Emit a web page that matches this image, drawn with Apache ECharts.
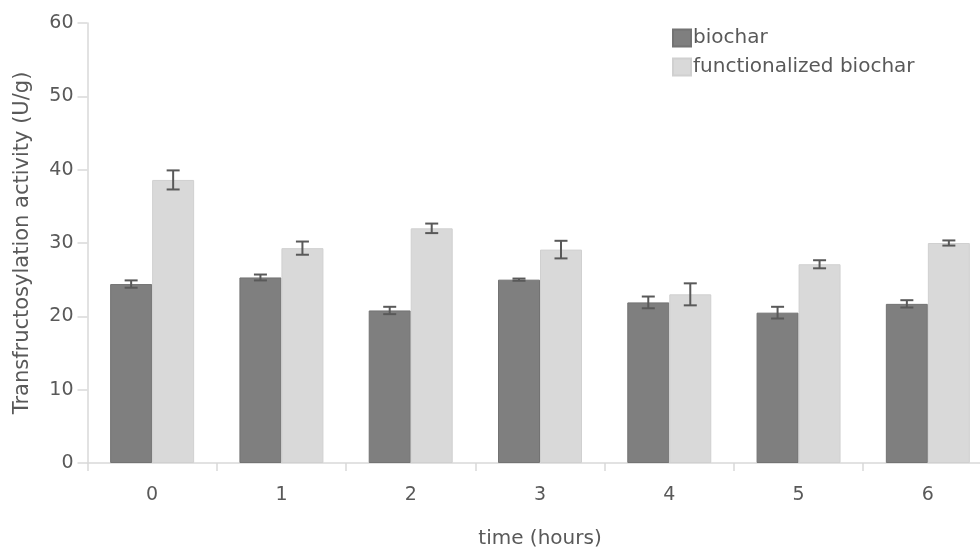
<!doctype html>
<html>
<head>
    <meta charset="utf-8">
    <title>Transfructosylation activity</title>
    <script src="https://cdn.jsdelivr.net/npm/echarts@6/dist/echarts.min.js"></script>
</head>
<body style="margin:0;padding:0">
    <div id="tb" style="width:980px;height:549px"></div>
    <script>
        // data
        var hours = ['0', '1', '2', '3', '4', '5', '6'];
        var biochar = [24.4, 25.3, 20.8, 25.0, 21.9, 20.5, 21.7];
        var biocharErr = [0.5, 0.4, 0.5, 0.15, 0.8, 0.8, 0.5];
        var funcBiochar = [38.6, 29.3, 32.0, 29.1, 23.0, 27.1, 30.0];
        var funcErr = [1.3, 0.9, 0.65, 1.2, 1.5, 0.55, 0.35];
        var yTicks = [0, 10, 20, 30, 40, 50, 60];

        var barW = 42;
        var textColor = '#595959';
        var axisColor = '#d9d9d9';
        var font = '"DejaVu Sans", "Open Sans", sans-serif';

        // error bar renderer, offset = which bar of the pair
        function errBars(offset) {
            return function (params, api) {
                var i = api.value(0);
                var lo = api.coord([i, api.value(1)]);
                var hi = api.coord([i, api.value(2)]);
                var x = lo[0] + offset;
                var cap = 6.5;
                var st = { stroke: '#595959', lineWidth: 2 };
                return {
                    type: 'group',
                    children: [
                        { type: 'line', shape: { x1: x, y1: hi[1], x2: x, y2: lo[1] }, style: st },
                        { type: 'line', shape: { x1: x - cap, y1: hi[1], x2: x + cap, y2: hi[1] }, style: st },
                        { type: 'line', shape: { x1: x - cap, y1: lo[1], x2: x + cap, y2: lo[1] }, style: st }
                    ]
                };
            };
        }
        function errData(vals, errs) {
            return vals.map(function (v, i) { return [i, v - errs[i], v + errs[i]]; });
        }

        var chart = echarts.init(document.getElementById('tb'));
        chart.setOption({
            animation: false,
            textStyle: { fontFamily: font },
            legend: {
                orient: 'vertical',
                left: 667,
                top: 23,
                itemWidth: 18,
                itemHeight: 17,
                itemGap: 9,
                icon: 'rect',
                textStyle: { fontSize: 20, color: textColor, fontFamily: font, padding: [0, 0, 0, -3] },
                data: ['biochar', 'functionalized biochar']
            },
            grid: { left: 87.5, right: -12.5, top: 23, bottom: 86, outerBoundsMode: 'none', containLabel: false },
            xAxis: {
                type: 'category',
                data: hours,
                name: 'time (hours)',
                nameLocation: 'middle',
                nameGap: 66,
                nameTextStyle: { fontSize: 20, color: textColor },
                axisLine: { lineStyle: { color: axisColor, width: 1.5 } },
                axisTick: { show: true, length: 8, lineStyle: { color: axisColor, width: 1.5 } },
                axisLabel: { fontSize: 19, color: textColor, margin: 23 }
            },
            yAxis: {
                type: 'value',
                min: yTicks[0],
                max: yTicks[yTicks.length - 1],
                interval: 10,
                name: 'Transfructosylation activity (U/g)',
                nameLocation: 'middle',
                nameGap: 54,
                nameTextStyle: { fontSize: 21, color: textColor },
                axisLine: { show: true, lineStyle: { color: axisColor, width: 1.5 } },
                axisTick: { show: true, length: 10, lineStyle: { color: axisColor, width: 1.5 } },
                axisLabel: { fontSize: 19, color: textColor, margin: 14 },
                splitLine: { show: false }
            },
            series: [{
                name: 'biochar',
                type: 'bar',
                data: biochar,
                barWidth: barW,
                barGap: '0%',
                itemStyle: { color: '#7f7f7f', borderColor: '#737373', borderWidth: 1 }
            }, {
                name: 'functionalized biochar',
                type: 'bar',
                data: funcBiochar,
                barWidth: barW,
                itemStyle: { color: '#d9d9d9', borderColor: '#d0d0d0', borderWidth: 1 }
            }, {
                type: 'custom',
                renderItem: errBars(-barW / 2),
                data: errData(biochar, biocharErr),
                encode: { x: 0, y: [1, 2] },
                z: 10
            }, {
                type: 'custom',
                renderItem: errBars(barW / 2),
                data: errData(funcBiochar, funcErr),
                encode: { x: 0, y: [1, 2] },
                z: 10
            }]
        });
    </script>
</body>
</html>
